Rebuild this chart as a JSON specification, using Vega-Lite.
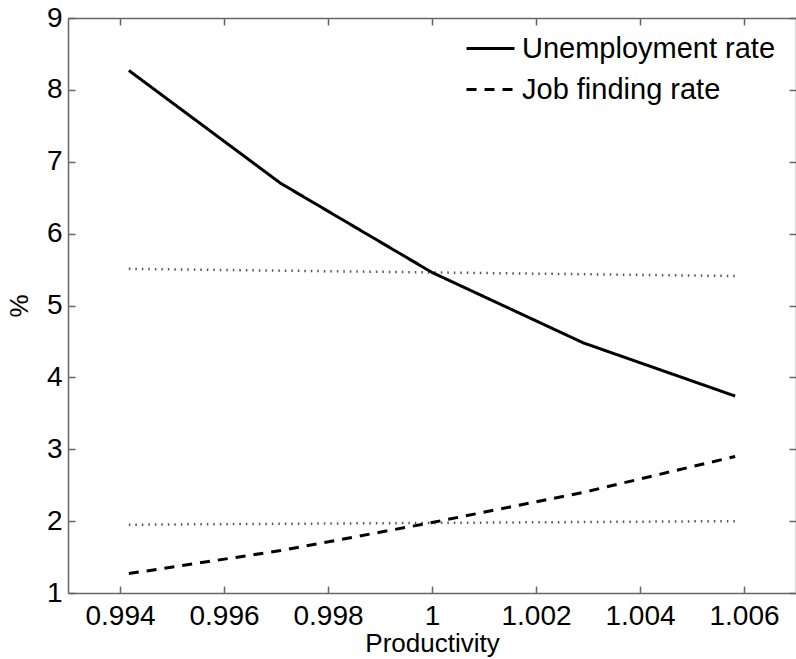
{
  "$schema": "https://vega.github.io/schema/vega-lite/v6.json",
  "width": 728,
  "height": 575,
  "autosize": {"type": "none"},
  "padding": {"left": 68, "top": 18, "right": 0, "bottom": 66},
  "background": "white",
  "config": {
    "view": {"stroke": null},
    "font": "Liberation Sans",
    "axis": {
      "grid": false,
      "domainColor": "#666666",
      "domainWidth": 1.5,
      "tickColor": "#666666",
      "tickWidth": 1.5,
      "tickSize": -7,
      "labelColor": "black",
      "labelFont": "Liberation Sans",
      "labelFontSize": 28,
      "titleFont": "Liberation Sans",
      "titleFontSize": 26,
      "titleFontWeight": "normal",
      "titleColor": "black"
    },
    "legend": {
      "labelFont": "Liberation Sans",
      "labelFontSize": 29,
      "labelColor": "black",
      "labelLimit": 500
    }
  },
  "datasets": {
    "main": [
      {"p": 0.99417, "v": 8.27, "s": "Unemployment rate"},
      {"p": 0.99709, "v": 6.70, "s": "Unemployment rate"},
      {"p": 1.0, "v": 5.46, "s": "Unemployment rate"},
      {"p": 1.00291, "v": 4.48, "s": "Unemployment rate"},
      {"p": 1.00583, "v": 3.74, "s": "Unemployment rate"},
      {"p": 0.99417, "v": 1.27, "s": "Job finding rate"},
      {"p": 0.99709, "v": 1.59, "s": "Job finding rate"},
      {"p": 1.0, "v": 1.98, "s": "Job finding rate"},
      {"p": 1.00291, "v": 2.40, "s": "Job finding rate"},
      {"p": 1.00583, "v": 2.90, "s": "Job finding rate"}
    ],
    "ref": [
      {"p": 0.99417, "v": 5.51, "s": "u_ss"},
      {"p": 1.00583, "v": 5.41, "s": "u_ss"},
      {"p": 0.99417, "v": 1.95, "s": "f_ss"},
      {"p": 1.00583, "v": 2.00, "s": "f_ss"}
    ]
  },
  "resolve": {"axis": {"x": "independent", "y": "independent"}},
  "layer": [
    {
      "data": {"name": "ref"},
      "mark": {"type": "line", "color": "#555555", "strokeWidth": 2.5, "strokeDash": [1.5, 5]},
      "encoding": {
        "x": {"field": "p", "type": "quantitative", "scale": {"domain": [0.993, 1.007], "nice": false, "zero": false},
              "axis": {"orient": "bottom", "values": [0.994, 0.996, 0.998, 1.0, 1.002, 1.004, 1.006], "format": ".3~f", "title": "Productivity", "labelPadding": 16, "titlePadding": 0}},
        "y": {"field": "v", "type": "quantitative", "scale": {"domain": [1, 9], "nice": false, "zero": false},
              "axis": {"orient": "left", "values": [1, 2, 3, 4, 5, 6, 7, 8, 9], "title": "%", "labelPadding": 13, "titlePadding": 14}},
        "detail": {"field": "s"}
      }
    },
    {
      "data": {"name": "main"},
      "mark": {"type": "line", "color": "black", "strokeWidth": 3},
      "encoding": {
        "x": {"field": "p", "type": "quantitative", "axis": {"orient": "top", "values": [0.994, 0.996, 0.998, 1.0, 1.002, 1.004, 1.006], "labels": false, "title": null}},
        "y": {"field": "v", "type": "quantitative", "axis": {"orient": "right", "values": [1, 2, 3, 4, 5, 6, 7, 8, 9], "labels": false, "title": null}},
        "strokeDash": {
          "field": "s",
          "type": "nominal",
          "scale": {"domain": ["Unemployment rate", "Job finding rate"], "range": [[1, 0], [10, 8]]},
          "legend": {
            "title": null,
            "orient": "none",
            "legendX": 397,
            "legendY": 5,
            "padding": 0,
            "symbolType": "stroke",
            "symbolSize": 2304,
            "symbolStrokeWidth": 3,
            "symbolStrokeColor": "black",
            "labelOffset": 6,
            "rowPadding": -5
          }
        }
      }
    }
  ]
}
